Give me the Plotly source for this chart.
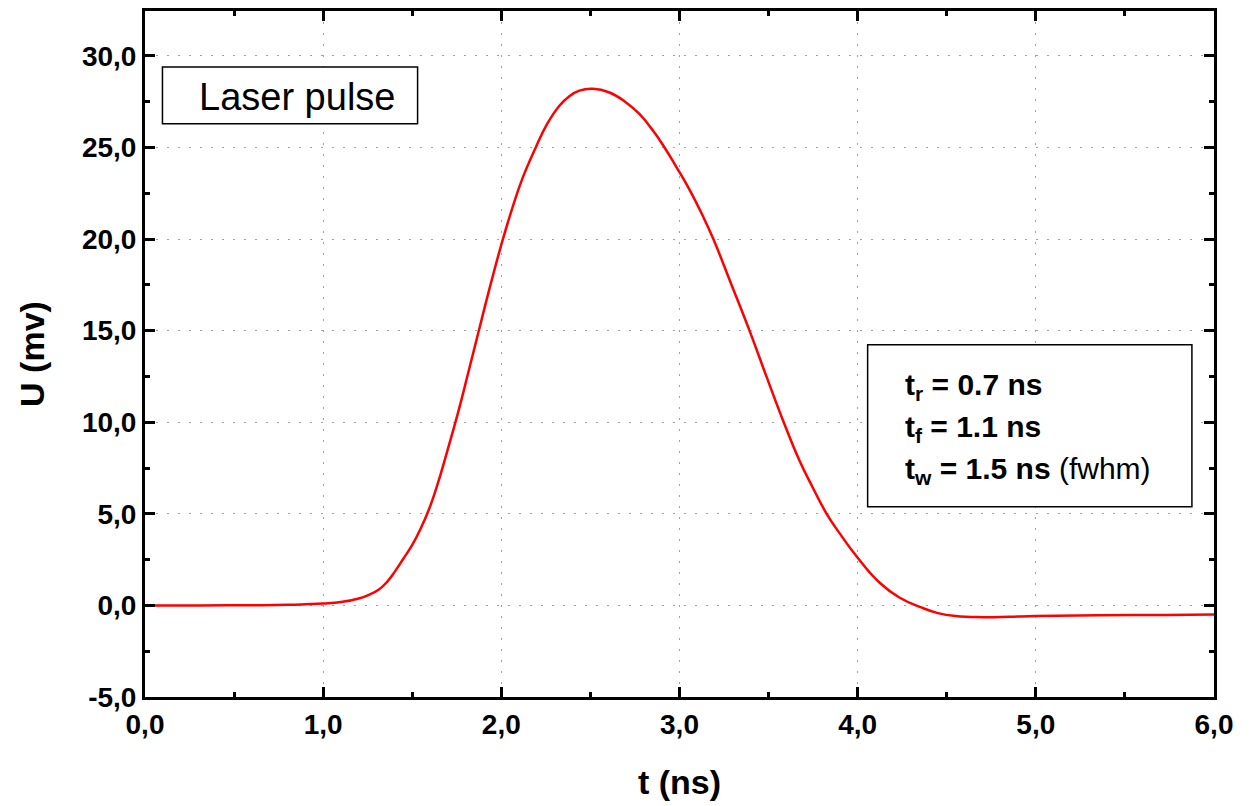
import plotly.graph_objects as go

# Pulse data (t in ns, U in mV)
t_ns = [0.0, 0.3, 0.6, 0.8, 0.9, 1.0, 1.1, 1.2, 1.25, 1.313, 1.36, 1.406, 1.45,
        1.5, 1.55, 1.594, 1.64, 1.687, 1.762, 1.818, 1.875, 1.931, 2.006,
        2.062, 2.118, 2.193, 2.258, 2.326, 2.382, 2.438, 2.513, 2.607, 2.7,
        2.775, 2.85, 2.916, 2.981, 3.056, 3.131, 3.19, 3.29, 3.393, 3.49,
        3.585, 3.672, 3.747, 3.826, 3.897, 4.0, 4.122, 4.234, 4.356, 4.45,
        4.55, 4.7, 4.85, 5.0, 5.35, 5.73, 6.0]
u_mv = [0.0, 0.0, 0.01, 0.03, 0.06, 0.1, 0.18, 0.38, 0.55, 0.87, 1.3, 1.9, 2.55,
        3.3, 4.25, 5.25, 6.55, 8.1, 10.7, 12.85, 15.05, 17.2, 19.9,
        21.7, 23.3, 25.0, 26.3, 27.28, 27.8, 28.1, 28.2, 28.0, 27.46,
        26.83, 25.94, 25.0, 23.96, 22.7, 21.26, 20.0, 17.55, 15.0, 12.45,
        10.0, 7.94, 6.45, 5.0, 3.96, 2.6, 1.25, 0.43, -0.11, -0.42,
        -0.58, -0.64, -0.62, -0.58, -0.54, -0.52, -0.49]

x_ticks = [0, 1, 2, 3, 4, 5, 6]
x_tick_text = ["0,0", "1,0", "2,0", "3,0", "4,0", "5,0", "6,0"]
y_ticks = [-5, 0, 5, 10, 15, 20, 25, 30]
y_tick_text = ["-5,0", "0,0", "5,0", "10,0", "15,0", "20,0", "25,0", "30,0"]

legend_label = "Laser pulse"
stats_lines = [
    "<b>t<sub>r</sub> = 0.7 ns</b>",
    "<b>t<sub>f</sub> = 1.1 ns</b>",
    "<b>t<sub>w</sub> = 1.5 ns</b> (fwhm)",
]

FONT = "Arial, Liberation Sans, sans-serif"

fig = go.Figure()
fig.add_trace(go.Scatter(x=t_ns, y=u_mv, mode="lines",
                         line=dict(color="#ff0000", width=2.5, shape="spline", smoothing=1.3),
                         showlegend=False))

axis_common = dict(
    showline=True, linecolor="black", linewidth=3, mirror="allticks",
    ticks="inside", ticklen=10, tickwidth=3, tickcolor="black",
    showgrid=True, gridcolor="#a0a0a0", gridwidth=1.3, griddash="2px,9px",
    zeroline=False,
    tickfont=dict(family=FONT, size=28, color="black", weight="bold"),
)

fig.update_xaxes(range=[0, 6], tickvals=x_ticks, ticktext=x_tick_text,
                 minor=dict(ticks="inside", ticklen=5, tickwidth=3, tickcolor="black", dtick=0.5, showgrid=False),
                 title=dict(text="<b>t (ns)</b>", font=dict(family=FONT, size=34, color="black"), standoff=32),
                 **axis_common)
fig.update_yaxes(range=[-5, 32.45], tickvals=y_ticks, ticktext=y_tick_text,
                 minor=dict(ticks="inside", ticklen=5, tickwidth=3, tickcolor="black", dtick=2.5, showgrid=False),
                 title=dict(text="<b>U (mv)</b>", font=dict(family=FONT, size=34, color="black"), standoff=28),
                 **axis_common)

# legend box
fig.add_shape(type="rect", xref="x", yref="y", x0=0.098, x1=1.53, y0=26.29, y1=29.39,
              line=dict(color="black", width=1.5), fillcolor="white", layer="above")
fig.add_annotation(x=0.855, y=27.75, xref="x", yref="y", text=legend_label, showarrow=False,
                   font=dict(family=FONT, size=38, color="black"), xanchor="center", yanchor="middle")

# stats box
fig.add_shape(type="rect", xref="x", yref="y", x0=4.056, x1=5.876, y0=5.38, y1=14.23,
              line=dict(color="black", width=1.5), fillcolor="white", layer="above")
for txt, yv in zip(stats_lines, [11.95, 9.67, 7.39]):
    fig.add_annotation(x=4.255, y=yv, xref="x", yref="y", text=txt, showarrow=False,
                       font=dict(family=FONT, size=30, color="black"), xanchor="left", yanchor="middle")

fig.update_layout(
    width=1252, height=806,
    margin=dict(l=137, r=46, t=0, b=117),
    paper_bgcolor="white", plot_bgcolor="white",
    font=dict(family=FONT, color="black"),
)

fig.write_html("out.html")
